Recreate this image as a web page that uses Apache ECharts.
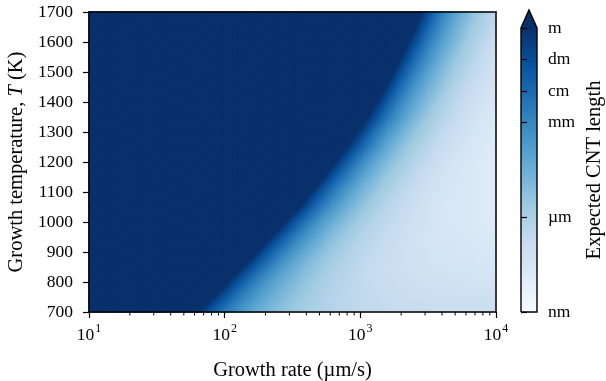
<!DOCTYPE html>
<html>
<head>
<meta charset="utf-8">
<script src="https://cdn.jsdelivr.net/npm/echarts@6/dist/echarts.min.js"></script>
<style>
html,body{margin:0;padding:0;background:#ffffff;}
#chart{width:606px;height:381px;}
</style>
</head>
<body>
<div id="chart"></div>
<script>
// ---- data ----
// x nodes: log10 of growth rate (µm/s)
const logRate = [1.0,1.1,1.2,1.3,1.4,1.5,1.6,1.7,1.8,1.9,2.0,2.1,2.2,2.3,2.4,2.5,2.6,2.7,2.8,2.9,3.0,3.1,3.2,3.3,3.4,3.5,3.6,3.7,3.8,3.9,4.0];
// y nodes: growth temperature (K)
const temperature = [700,750,800,850,900,950,1000,1050,1100,1150,1200,1250,1300,1350,1400,1450,1500,1550,1600,1650,1700];
// log10 of expected CNT length (m) at each node, one array per temperature (values >= 0 are saturated: >= 1 m)
const len700  = [1,1,1,1,1,1,1,1,0.1,-1.4, -2.5,-3.4,-4.2,-4.8,-5.2,-5.6,-5.9,-6.1,-6.3,-6.4, -6.6,-6.6,-6.7,-6.8,-6.8,-6.9,-6.9,-6.9,-6.9,-6.9, -7.0];
const len750  = [1,1,1,1,1,1,1,1,1,0.3, -1.2,-2.5,-3.4,-4.2,-4.8,-5.3,-5.7,-6.0,-6.3,-6.5, -6.6,-6.7,-6.8,-6.9,-7.0,-7.0,-7.1,-7.1,-7.1,-7.1, -7.1];
const len800  = [1,1,1,1,1,1,1,1,1,1, 0.4,-1.2,-2.5,-3.5,-4.3,-4.9,-5.4,-5.8,-6.2,-6.4, -6.6,-6.8,-6.9,-7.0,-7.1,-7.2,-7.2,-7.2,-7.3,-7.3, -7.3];
const len850  = [1,1,1,1,1,1,1,1,1,1, 1,0.6,-1.1,-2.4,-3.5,-4.3,-5.0,-5.5,-6.0,-6.3, -6.6,-6.8,-7.0,-7.1,-7.2,-7.3,-7.3,-7.4,-7.4,-7.5, -7.5];
const len900  = [1,1,1,1,1,1,1,1,1,1, 1,1,0.7,-1.1,-2.4,-3.5,-4.4,-5.1,-5.6,-6.1, -6.4,-6.7,-6.9,-7.1,-7.2,-7.3,-7.4,-7.5,-7.5,-7.6, -7.6];
const len950  = [1,1,1,1,1,1,1,1,1,1, 1,1,1,0.8,-1.0,-2.4,-3.5,-4.4,-5.2,-5.7, -6.2,-6.5,-6.8,-7.0,-7.2,-7.4,-7.5,-7.5,-7.6,-7.7, -7.7];
const len1000 = [1,1,1,1,1,1,1,1,1,1, 1,1,1,1,0.9,-1.0,-2.4,-3.6,-4.5,-5.2, -5.8,-6.3,-6.6,-6.9,-7.2,-7.3,-7.5,-7.6,-7.7,-7.8, -7.8];
const len1050 = [1,1,1,1,1,1,1,1,1,1, 1,1,1,1,1,1,-0.9,-2.4,-3.6,-4.5, -5.3,-5.9,-6.4,-6.7,-7.0,-7.3,-7.5,-7.6,-7.7,-7.8, -7.9];
const len1100 = [1,1,1,1,1,1,1,1,1,1, 1,1,1,1,1,1,0.8,-1.1,-2.6,-3.7, -4.7,-5.4,-6.0,-6.5,-6.9,-7.2,-7.4,-7.6,-7.7,-7.8, -7.9];
const len1150 = [1,1,1,1,1,1,1,1,1,1, 1,1,1,1,1,1,1,0.6,-1.3,-2.7, -3.9,-4.8,-5.6,-6.1,-6.6,-7.0,-7.3,-7.5,-7.7,-7.8, -7.9];
const len1200 = [1,1,1,1,1,1,1,1,1,1, 1,1,1,1,1,1,1,1,0.3,-1.5, -2.9,-4.1,-5.0,-5.7,-6.3,-6.7,-7.1,-7.4,-7.6,-7.8, -7.9];
const len1250 = [1,1,1,1,1,1,1,1,1,1, 1,1,1,1,1,1,1,1,1,0.0, -1.7,-3.1,-4.3,-5.2,-5.9,-6.4,-6.9,-7.2,-7.5,-7.7, -7.9];
const len1300 = [1,1,1,1,1,1,1,1,1,1, 1,1,1,1,1,1,1,1,1,1, -0.4,-2.1,-3.5,-4.5,-5.4,-6.0,-6.6,-7.0,-7.3,-7.6, -7.8];
const len1350 = [1,1,1,1,1,1,1,1,1,1, 1,1,1,1,1,1,1,1,1,1, 1,-0.8,-2.5,-3.7,-4.8,-5.6,-6.2,-6.7,-7.1,-7.5, -7.7];
const len1400 = [1,1,1,1,1,1,1,1,1,1, 1,1,1,1,1,1,1,1,1,1, 1,0.4,-1.5,-3.0,-4.2,-5.1,-5.9,-6.5,-7.0,-7.3, -7.6];
const len1450 = [1,1,1,1,1,1,1,1,1,1, 1,1,1,1,1,1,1,1,1,1, 1,1,-0.3,-2.1,-3.5,-4.6,-5.4,-6.2,-6.7,-7.1, -7.5];
const len1500 = [1,1,1,1,1,1,1,1,1,1, 1,1,1,1,1,1,1,1,1,1, 1,1,1,-1.1,-2.7,-4.0,-5.0,-5.8,-6.4,-6.9, -7.3];
const len1550 = [1,1,1,1,1,1,1,1,1,1, 1,1,1,1,1,1,1,1,1,1, 1,1,1,0.0,-1.9,-3.3,-4.5,-5.4,-6.1,-6.7, -7.2];
const len1600 = [1,1,1,1,1,1,1,1,1,1, 1,1,1,1,1,1,1,1,1,1, 1,1,1,1,-0.9,-2.6,-3.9,-4.9,-5.8,-6.4, -7.0];
const len1650 = [1,1,1,1,1,1,1,1,1,1, 1,1,1,1,1,1,1,1,1,1, 1,1,1,1,0.1,-1.8,-3.3,-4.5,-5.4,-6.1, -6.7];
const len1700 = [1,1,1,1,1,1,1,1,1,1, 1,1,1,1,1,1,1,1,1,1, 1,1,1,1,1,-1.0,-2.7,-4.0,-5.0,-5.9, -6.5];
const lengthRows = [len700,len750,len800,len850,len900,len950,len1000,len1050,len1100,len1150,len1200,
                    len1250,len1300,len1350,len1400,len1450,len1500,len1550,len1600,len1650,len1700];

// axis ticks / colorbar
const rateMin = 10, rateMax = 10000;
const xMinorTicks = [20,30,40,50,60,70,80,90,200,300,400,500,600,700,800,900,2000,3000,4000,5000,6000,7000,8000,9000];
const cbarRange = [-9, 0];
const cbarTicks = [-9, -6, -3, -2, -1, 0];
const cbarLabels = ['nm', 'µm', 'mm', 'cm', 'dm', 'm'];

// ---- styling ----
const FONT = 'Liberation Serif';
const BLUES = ['#f7fbff','#deebf7','#c6dbef','#9ecae1','#6baed6','#4292c6','#2171b5','#08519c','#08306b'];
const BLUES_RGB = BLUES.map(h => [parseInt(h.slice(1,3),16), parseInt(h.slice(3,5),16), parseInt(h.slice(5,7),16)]);
function cmap(v) {
  let t = (v - cbarRange[0]) / (cbarRange[1] - cbarRange[0]);
  t = Math.max(0, Math.min(1, t));
  const s = t * (BLUES_RGB.length - 1);
  const k = Math.min(Math.floor(s), BLUES_RGB.length - 2);
  const f = s - k;
  const a = BLUES_RGB[k], b = BLUES_RGB[k + 1];
  return 'rgb(' + Math.round(a[0] + (b[0]-a[0])*f) + ',' + Math.round(a[1] + (b[1]-a[1])*f) + ',' + Math.round(a[2] + (b[2]-a[2])*f) + ')';
}

// linear colour ramp across a triangle (values linear between its three nodes)
function triFill(p, v) {
  const e1x = p[1][0]-p[0][0], e1y = p[1][1]-p[0][1];
  const e2x = p[2][0]-p[0][0], e2y = p[2][1]-p[0][1];
  const d1 = v[1]-v[0], d2 = v[2]-v[0];
  const det = e1x*e2y - e1y*e2x;
  let gx = 0, gy = 0;
  if (Math.abs(det) > 1e-9) { gx = (d1*e2y - e1y*d2)/det; gy = (e1x*d2 - d1*e2x)/det; }
  const g = Math.hypot(gx, gy);
  if (g < 1e-9) return cmap(v[0]);
  const nx = gx/g, ny = gy/g;
  const pr = p.map(q => q[0]*nx + q[1]*ny);
  const p0 = pr[0];
  const pmin = Math.min.apply(null, pr), pmax = Math.max.apply(null, pr);
  const vs = v[0] + g*(pmin - p0), ve = v[0] + g*(pmax - p0);
  const offs = [];
  for (let q = 0; q <= 10; q++) offs.push(q/10);
  if ((vs < 0 && ve > 0) || (vs > 0 && ve < 0)) offs.push((0 - vs)/(ve - vs));
  offs.sort((a,b) => a-b);
  return {
    type: 'linear', global: true,
    x: p[0][0] + nx*(pmin - p0), y: p[0][1] + ny*(pmin - p0),
    x2: p[0][0] + nx*(pmax - p0), y2: p[0][1] + ny*(pmax - p0),
    colorStops: offs.map(o => ({ offset: o, color: cmap(vs + (ve - vs)*o) }))
  };
}

// build triangle table from the node arrays
const heatData = [];
for (let j = 0; j < temperature.length - 1; j++) {
  for (let i = 0; i < logRate.length - 1; i++) {
    heatData.push([Math.pow(10, logRate[i]), temperature[j], i, j, 0]);
    heatData.push([Math.pow(10, logRate[i]), temperature[j], i, j, 1]);
  }
}

function heatItem(params, api) {
  const i = api.value(2), j = api.value(3), k = api.value(4);
  const P = (ii, jj) => api.coord([Math.pow(10, logRate[ii]), temperature[jj]]);
  const bl = P(i, j), br = P(i+1, j), tl = P(i, j+1), tr = P(i+1, j+1);
  const vbl = lengthRows[j][i], vbr = lengthRows[j][i+1], vtl = lengthRows[j+1][i], vtr = lengthRows[j+1][i+1];
  let pts, vals;
  if (k === 0) { pts = [bl, br, tr]; vals = [vbl, vbr, vtr]; }
  else { pts = [bl, tr, tl]; vals = [vbl, vtr, vtl]; }
  const fill = triFill(pts, vals);
  return { type: 'polygon', silent: true, shape: { points: pts }, style: { fill: fill, stroke: fill, lineWidth: 1.4, lineJoin: 'round' } };
}

function minorTickItem(params, api) {
  const p = api.coord([api.value(0), api.value(1)]);
  return { type: 'line', silent: true, shape: { x1: p[0], y1: p[1], x2: p[0], y2: p[1] + 3.5 },
           style: { stroke: '#000', lineWidth: 1 } };
}

function cbarItem(params, api) {
  const b = api.coord([0, cbarRange[0]]), t = api.coord([1, cbarRange[1]]);
  const x0 = b[0], yb = b[1], x1 = t[0], yt = t[1];
  const xm = (x0 + x1) / 2;
  const tipY = yt - (x1 - x0) * 1.12;
  const stops = BLUES.map((c, q) => ({ offset: q / (BLUES.length - 1), color: c }));
  return {
    type: 'group', silent: true,
    children: [
      { type: 'rect', shape: { x: x0, y: yt, width: x1 - x0, height: yb - yt },
        style: { fill: { type: 'linear', x: 0, y: 1, x2: 0, y2: 0, colorStops: stops } } },
      { type: 'polygon', shape: { points: [[x0, yt + 0.5], [xm, tipY], [x1, yt + 0.5]] }, style: { fill: BLUES[BLUES.length - 1] } },
      { type: 'polyline', shape: { points: [[x0, yb], [x0, yt], [xm, tipY], [x1, yt], [x1, yb], [x0, yb]] },
        style: { stroke: '#000', lineWidth: 1.4, fill: null } }
    ]
  };
}

const axisLineStyle = { color: '#000', width: 1.5 };
const tickStyle = { color: '#000', width: 1.2 };

const chart = echarts.init(document.getElementById('chart'), null, { renderer: 'canvas' });
chart.setOption({
  animation: false,
  backgroundColor: '#ffffff',
  grid: [
    { left: 89, top: 12, width: 407, height: 300, containLabel: false, outerBoundsMode: 'none' },
    { left: 521, top: 28, width: 16, height: 284, containLabel: false, outerBoundsMode: 'none' }
  ],
  xAxis: [
    {
      gridIndex: 0, type: 'log', logBase: 10, min: rateMin, max: rateMax, position: 'bottom', z: 10,
      name: 'Growth rate (µm/s)', nameLocation: 'middle', nameGap: 48,
      nameTextStyle: { fontFamily: FONT, fontSize: 20.5, color: '#000' },
      axisLine: { show: true, lineStyle: axisLineStyle },
      axisTick: { show: true, inside: false, length: 6, lineStyle: tickStyle },
      splitLine: { show: false },
      minorTick: { show: false },
      axisLabel: {
        margin: 11,
        formatter: v => '{b|10}{s|' + Math.round(Math.log10(v)) + '}',
        rich: {
          b: { fontFamily: FONT, fontSize: 17.5, color: '#000' },
          s: { fontFamily: FONT, fontSize: 12, color: '#000', padding: [0, 0, 12, 1] }
        }
      }
    },
    {
      gridIndex: 0, type: 'log', logBase: 10, min: rateMin, max: rateMax, position: 'top', z: 10,
      axisLine: { show: true, lineStyle: axisLineStyle },
      axisTick: { show: false }, axisLabel: { show: false }, splitLine: { show: false }
    },
    {
      gridIndex: 1, type: 'value', min: 0, max: 1, show: false
    }
  ],
  yAxis: [
    {
      gridIndex: 0, type: 'value', min: temperature[0], max: temperature[temperature.length - 1], interval: 100,
      position: 'left', z: 10,
      name: '{a|Growth temperature, }{i|T}{a| (K)}', nameLocation: 'middle', nameGap: 54,
      nameTextStyle: {
        fontFamily: FONT, fontSize: 20.5, color: '#000',
        rich: {
          a: { fontFamily: FONT, fontSize: 20.5, color: '#000' },
          i: { fontFamily: FONT, fontSize: 20.5, color: '#000', fontStyle: 'italic' }
        }
      },
      axisLine: { show: true, lineStyle: axisLineStyle },
      axisTick: { show: true, inside: false, length: 6, lineStyle: tickStyle },
      splitLine: { show: false },
      axisLabel: { margin: 16, fontFamily: FONT, fontSize: 17.5, color: '#000', formatter: v => String(v) }
    },
    {
      gridIndex: 0, type: 'value', min: temperature[0], max: temperature[temperature.length - 1], position: 'right', z: 10,
      axisLine: { show: true, lineStyle: axisLineStyle },
      axisTick: { show: false }, axisLabel: { show: false }, splitLine: { show: false }
    },
    {
      gridIndex: 1, type: 'value', min: cbarRange[0], max: cbarRange[1], interval: 1, position: 'right', z: 10,
      name: 'Expected CNT length', nameLocation: 'middle', nameGap: 47, nameRotate: 90,
      nameTextStyle: { fontFamily: FONT, fontSize: 20.5, color: '#000' },
      axisLine: { show: false },
      splitLine: { show: false },
      axisTick: { show: true, inside: false, length: 6, lineStyle: tickStyle, customValues: cbarTicks },
      axisLabel: {
        margin: 11, fontFamily: FONT, fontSize: 17.5, color: '#000', customValues: cbarTicks,
        formatter: v => { const q = cbarTicks.indexOf(Math.round(v)); return q >= 0 ? cbarLabels[q] : ''; }
      }
    }
  ],
  series: [
    {
      type: 'custom', name: 'heat', xAxisIndex: 0, yAxisIndex: 0, z: 1, silent: true,
      encode: { x: 0, y: 1 },
      renderItem: heatItem, data: heatData
    },
    {
      type: 'custom', name: 'minorTicks', xAxisIndex: 0, yAxisIndex: 0, z: 11, silent: true,
      encode: { x: 0, y: 1 },
      renderItem: minorTickItem, data: xMinorTicks.map(v => [v, temperature[0]])
    },
    {
      type: 'custom', name: 'colorbar', xAxisIndex: 2, yAxisIndex: 2, z: 1, silent: true,
      encode: { x: 0, y: 1 },
      renderItem: cbarItem, data: [[0, cbarRange[0]]]
    }
  ]
});
</script>
</body>
</html>
